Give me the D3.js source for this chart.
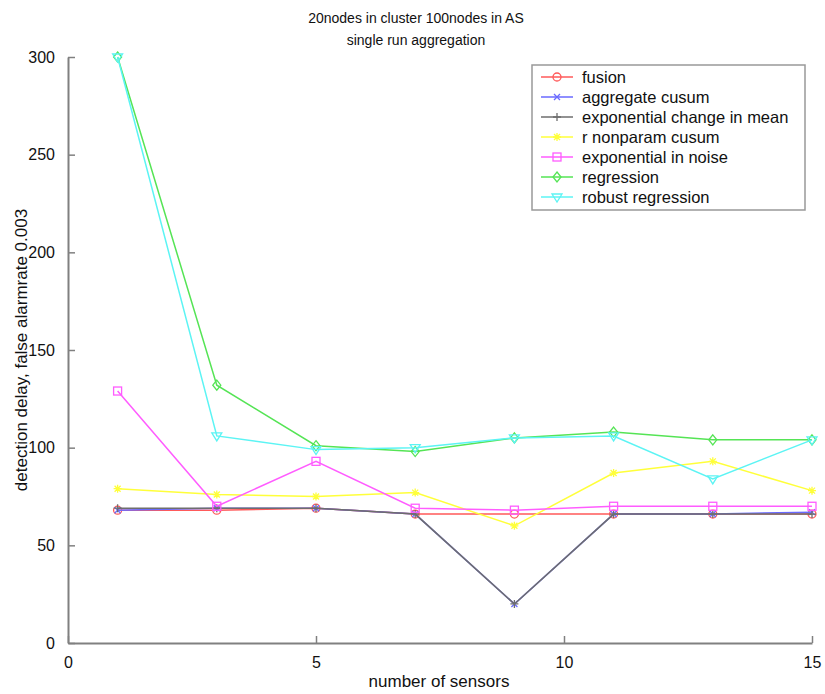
<!DOCTYPE html>
<html>
<head>
<meta charset="utf-8">
<script src="https://cdn.jsdelivr.net/npm/d3@7"></script>
<style>
  body { margin: 0; background: #fff; }
  svg { font-family: "Liberation Sans", Arial, sans-serif; }
</style>
</head>
<body>
<svg id="chart" width="825" height="694"></svg>
<script>
// chart data
const sensors = [1, 3, 5, 7, 9, 11, 13, 15];
const seriesNames = ["fusion", "aggregate cusum", "exponential change in mean",
  "r nonparam cusum", "exponential in noise", "regression", "robust regression"];
const fusion = [68, 68, 69, 66, 66, 66, 66, 66];
const aggregateCusum = [68, 69, 69, 66, 20, 66, 66, 67];
const expChangeMean = [69, 69, 69, 66, 20, 66, 66, 66];
const rNonparamCusum = [79, 76, 75, 77, 60, 87, 93, 78];
const expInNoise = [129, 70, 93, 69, 68, 70, 70, 70];
const regression = [300, 132, 101, 98, 105, 108, 104, 104];
const robustRegression = [300, 106, 99, 100, 105, 106, 84, 104];
const xTicks = [0, 5, 10, 15];
const yTicks = [0, 50, 100, 150, 200, 250, 300];

const allValues = [fusion, aggregateCusum, expChangeMean, rNonparamCusum,
  expInNoise, regression, robustRegression];
const colors = ["#ff5a5a", "#6a6aff", "#6e6e6e", "#ffff3a", "#ff5cff", "#55e455", "#5cf4f4"];
const markers = ["circle", "x", "plus", "star", "square", "diamond", "tri"];

const svg = d3.select('#chart');
const x = d3.scaleLinear().domain([0, 15]).range([68, 812]);
const y = d3.scaleLinear().domain([0, 300]).range([643, 57]);

// axes: MATLAB style, ticks pointing inward
let xAxis = svg.append('g')
  .attr('transform', `translate(0,${y(0)})`)
  .call(d3.axisBottom(x).tickValues(xTicks).tickSize(-7).tickSizeOuter(0).tickPadding(14));
let yAxis = svg.append('g')
  .attr('transform', `translate(${x(0)},0)`)
  .call(d3.axisLeft(y).tickValues(yTicks).tickSize(-7).tickSizeOuter(0).tickPadding(13));
[xAxis, yAxis].forEach(a => {
  a.select('.domain').attr('stroke', '#808080').attr('stroke-width', 2);
  a.selectAll('.tick line').attr('stroke', '#808080').attr('stroke-width', 1.5);
  a.selectAll('.tick text').attr('font-size', 16).attr('fill', '#111');
});

// marker drawing
function drawMarker(g, type, color) {
  const s = 4;
  if (type === 'circle') g.append('circle').attr('r', s).attr('fill', 'none').attr('stroke', color);
  else if (type === 'square') g.append('rect').attr('x', -s).attr('y', -s).attr('width', 2*s).attr('height', 2*s).attr('fill', 'none').attr('stroke', color);
  else if (type === 'diamond') g.append('path').attr('d', `M0,${-s-1}L${s},0L0,${s+1}L${-s},0Z`).attr('fill', 'none').attr('stroke', color);
  else if (type === 'tri') g.append('path').attr('d', `M${-s-1},${-s+1}L${s+1},${-s+1}L0,${s+1}Z`).attr('fill', 'none').attr('stroke', color);
  else if (type === 'x') g.append('path').attr('d', `M${-3},${-3}L3,3M3,-3L-3,3`).attr('stroke', color);
  else if (type === 'plus') g.append('path').attr('d', `M-4,0L4,0M0,-4L0,4`).attr('stroke', color);
  else if (type === 'star') g.append('path').attr('d', `M-4,0L4,0M0,-4L0,4M-3,-3L3,3M3,-3L-3,3`).attr('stroke', color);
}

const line = d3.line().x((d, i) => x(sensors[i])).y(d => y(d));

allValues.forEach((vals, k) => {
  let g = svg.append('g').attr('class', 'series');
  g.append('path').datum(vals)
    .attr('d', line)
    .attr('fill', 'none')
    .attr('stroke', colors[k])
    .attr('stroke-width', 1.5);
  vals.forEach((v, i) => {
    let m = g.append('g').attr('transform', `translate(${x(sensors[i])},${y(v)})`)
      .attr('stroke-width', 1.3);
    drawMarker(m, markers[k], colors[k]);
  });
});

// legend
let legend = svg.append('g');
legend.append('rect')
  .attr('x', 532).attr('y', 65).attr('width', 273).attr('height', 145)
  .attr('fill', '#fff').attr('stroke', '#999').attr('stroke-width', 1.5);
seriesNames.forEach((name, k) => {
  let ly = 77 + k * 20;
  legend.append('line').attr('x1', 541).attr('x2', 573).attr('y1', ly).attr('y2', ly)
    .attr('stroke', colors[k]).attr('stroke-width', 1.5);
  let m = legend.append('g').attr('transform', `translate(557,${ly})`).attr('stroke-width', 1.3);
  drawMarker(m, markers[k], colors[k]);
  legend.append('text').attr('x', 582).attr('y', ly + 6)
    .attr('font-size', 16.5).attr('fill', '#111').text(name);
});

// titles
svg.append('text').attr('x', 416).attr('y', 23).attr('text-anchor', 'middle')
  .attr('font-size', 14).attr('fill', '#111').text('20nodes in cluster 100nodes in AS');
svg.append('text').attr('x', 416).attr('y', 45).attr('text-anchor', 'middle')
  .attr('font-size', 14).attr('fill', '#111').text('single run aggregation');
svg.append('text').attr('x', 439).attr('y', 687).attr('text-anchor', 'middle')
  .attr('font-size', 17).attr('fill', '#111').text('number of sensors');
svg.append('text').attr('transform', 'translate(27,350) rotate(-90)').attr('text-anchor', 'middle')
  .attr('font-size', 17).attr('fill', '#111').text('detection delay, false alarmrate 0.003');
</script>
</body>
</html>
